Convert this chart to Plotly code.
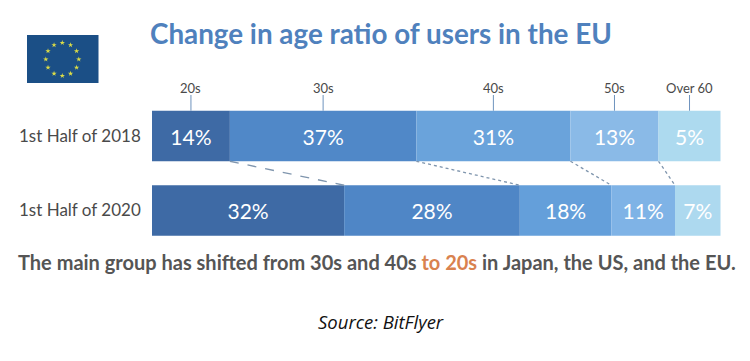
import math
import plotly.graph_objects as go

periods = ["1st Half of 2018", "1st Half of 2020"]
age_groups = ["20s", "30s", "40s", "50s", "Over 60"]
# Printed percentage labels
labels_2018 = [14, 37, 31, 13, 5]
labels_2020 = [32, 28, 18, 11, 7]
# Drawn segment lengths (the source does not draw to scale)
drawn_2018 = [13.7, 32.8, 27.1, 15.5, 10.9]
drawn_2020 = [33.8, 30.9, 16.1, 11.2, 8.0]
colors_2018 = ["#3E6AA5", "#5088C8", "#6AA3DB", "#8ABAE7", "#ADDAEF"]
colors_2020 = ["#3E6AA5", "#4F86C6", "#649FDA", "#7FB3E6", "#ADD9EF"]

W, H = 750, 361
BAR_L, BAR_R = 152, 720.5
ROW0, ROW_STEP = 136, 74.5
BAR_W = 0.678
TITLE_FONT = "Lato"


def cum(a):
    out, s = [], 0
    for v in a:
        s += v
        out.append(s)
    return out


def px_x(px):
    return (px - BAR_L) / (BAR_R - BAR_L) * sum(drawn_2018)


def px_y(px):
    return (px - ROW0) / ROW_STEP


fig = go.Figure()

for row, (drawn, labs, cols) in enumerate(
    [(drawn_2018, labels_2018, colors_2018), (drawn_2020, labels_2020, colors_2020)]
):
    base = 0
    for i, v in enumerate(drawn):
        fig.add_trace(go.Bar(
            x=[v], y=[row], base=[base], orientation="h", width=BAR_W,
            marker=dict(color=cols[i], line=dict(width=0)),
            text=[f"{labs[i]}%"], textposition="inside", insidetextanchor="middle",
            textangle=0, constraintext="none",
            textfont=dict(family=TITLE_FONT, size=21, color="white"),
            showlegend=False, hoverinfo="skip",
        ))
        base += v

# Connectors between the rows
c18, c20 = cum(drawn_2018), cum(drawn_2020)
for i in range(4):
    fig.add_trace(go.Scatter(
        x=[c18[i], c20[i]], y=[BAR_W / 2, 1 - BAR_W / 2], mode="lines",
        line=dict(color="#7F95AD", width=1.3, dash="dash" if i == 0 else "dot"),
        showlegend=False, hoverinfo="skip",
    ))

# Leaders and age-group labels
prev = 0
for i, g in enumerate(age_groups):
    mid = prev + drawn_2018[i] / 2
    prev = c18[i]
    fig.add_trace(go.Scatter(
        x=[mid, mid], y=[-BAR_W / 2, px_y(95)], mode="lines",
        line=dict(color="#6E93BE", width=1), showlegend=False, hoverinfo="skip",
    ))
    fig.add_annotation(x=mid, y=px_y(88), text=g, showarrow=False,
                       font=dict(family=TITLE_FONT, size=13, color="#4A4A4A"))

# EU flag
fig.add_shape(type="rect", xref="x", yref="y", layer="below",
              x0=px_x(27), x1=px_x(98.5), y0=px_y(35), y1=px_y(83),
              fillcolor="#1B4F86", line=dict(width=0))
star_x = [px_x(62.3 + 16.5 * math.cos(k * math.pi / 6)) for k in range(12)]
star_y = [px_y(59.3 + 16.5 * math.sin(k * math.pi / 6)) for k in range(12)]
fig.add_trace(go.Scatter(
    x=star_x, y=star_y, mode="markers",
    marker=dict(symbol="star", size=4, color="#DCDC46", line=dict(width=0)),
    showlegend=False, hoverinfo="skip",
))

# Title, footer, source
fig.add_annotation(x=px_x(381), y=px_y(33), text="<b>Change in age ratio of users in the EU</b>",
                   showarrow=False, font=dict(family=TITLE_FONT, size=27.8, color="#4F81BD"))
fig.add_annotation(x=px_x(377), y=px_y(262),
                   text='<b>The main group has shifted from 30s and 40s '
                        '<span style="color:#D9824F">to 20s</span> in Japan, the US, and the EU.</b>',
                   showarrow=False, font=dict(family=TITLE_FONT, size=20, color="#555555"))
fig.add_annotation(x=px_x(381), y=px_y(321), text="<i>Source: BitFlyer</i>",
                   showarrow=False, font=dict(family="Open Sans", size=18.5, color="#111111"))

fig.update_layout(
    width=W, height=H, autosize=False, margin=dict(l=0, r=0, t=0, b=0),
    paper_bgcolor="white", plot_bgcolor="white", barmode="overlay",
    xaxis=dict(domain=[0, 1], range=[px_x(0), px_x(W)], visible=False, fixedrange=True),
    yaxis=dict(domain=[0, 1], range=[px_y(H), px_y(0)], showgrid=False, zeroline=False,
               showline=False, ticks="", tickvals=[0, 1], ticktext=periods,
               ticklabelposition="inside", ticklabelstandoff=16,
               tickfont=dict(family=TITLE_FONT, size=17, color="#4A4A4A")),
)
fig.write_html("out.html", config={"displayModeBar": False},
               post_script="document.body.style.margin='0';document.body.style.overflow='hidden';")
